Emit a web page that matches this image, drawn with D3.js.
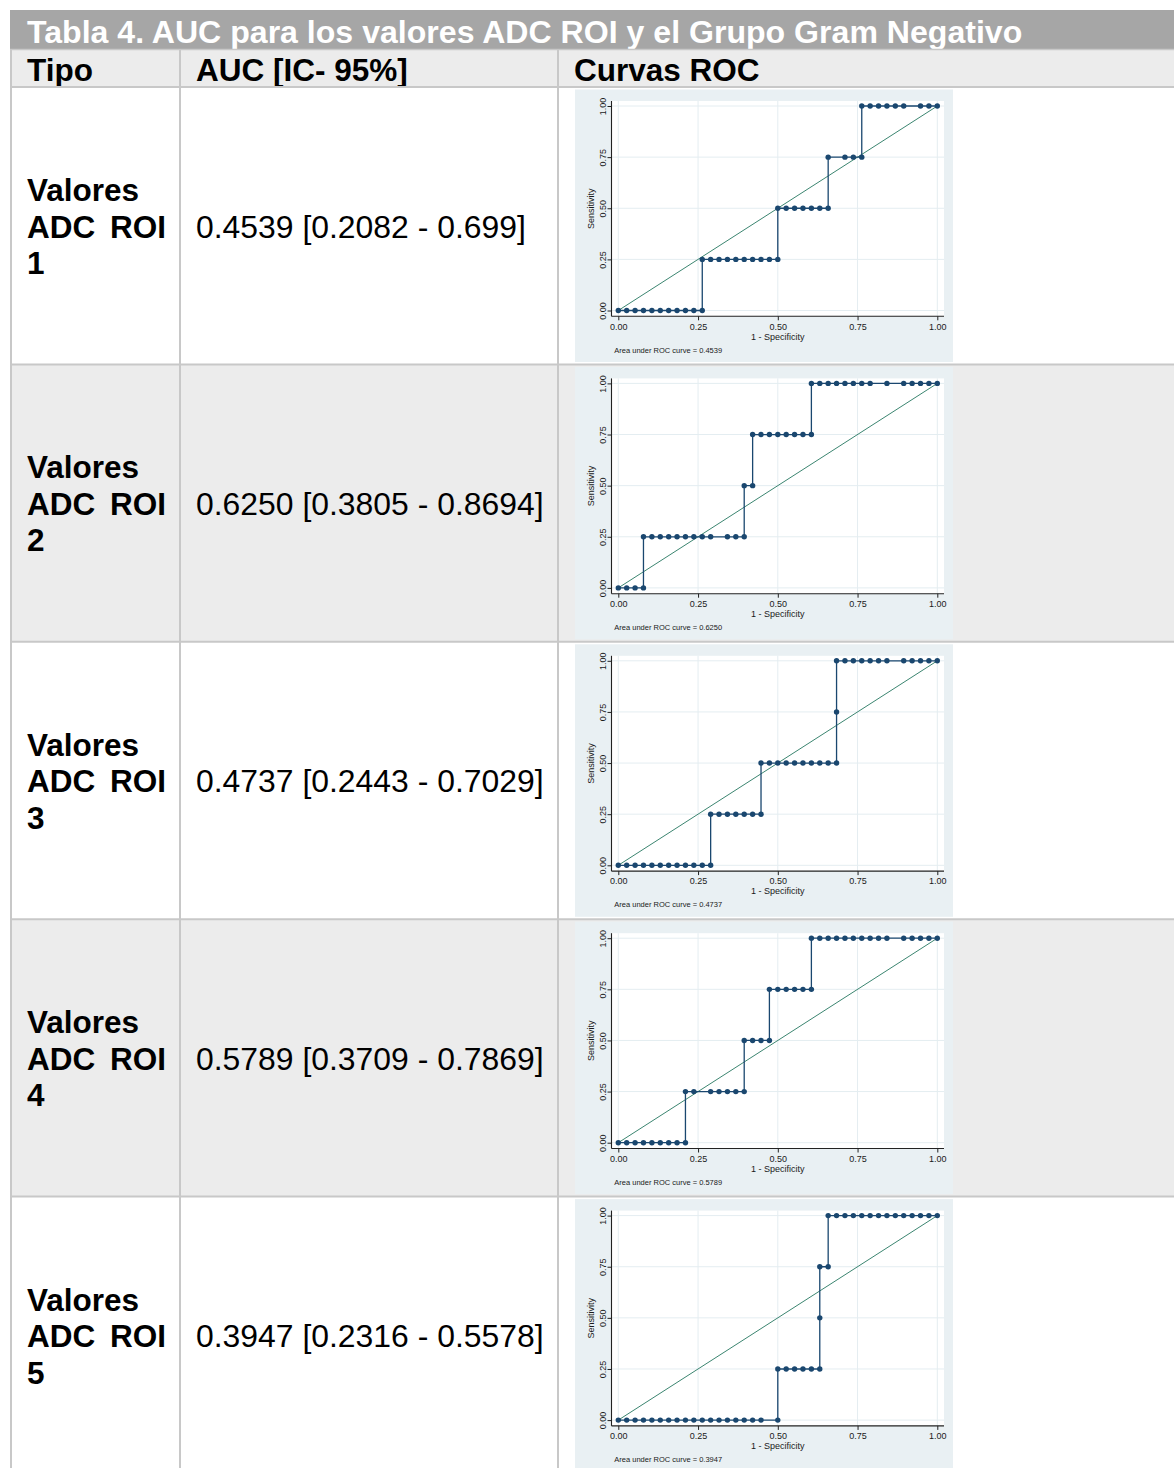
<!DOCTYPE html>
<html><head><meta charset="utf-8">
<script src="https://cdn.jsdelivr.net/npm/d3@7"></script>
<style>
body{margin:0;background:#fff}
svg{display:block}
text{font-family:"Liberation Sans",Arial,Helvetica,sans-serif}
</style>
</head><body>
<svg id="c" width="1174" height="1468"></svg>
<script>
// ---------- DATA ----------
const tableTitle = "Tabla 4. AUC para los valores ADC ROI y el Grupo Gram Negativo";
const headers = ["Tipo", "AUC [IC- 95%]", "Curvas ROC"];
const rowNumbers = ["1", "2", "3", "4", "5"];
const aucTexts = [
  "0.4539 [0.2082 - 0.699]",
  "0.6250 [0.3805 - 0.8694]",
  "0.4737 [0.2443 - 0.7029]",
  "0.5789 [0.3709 - 0.7869]",
  "0.3947 [0.2316 - 0.5578]"
];
const aucValues = ["0.4539", "0.6250", "0.4737", "0.5789", "0.3947"];
const tickValues = [0, 0.25, 0.5, 0.75, 1];

// 1 - Specificity (x) and Sensitivity (y) for each ROC curve
const roc1Fpr = [0,.0263,.0526,.0789,.1053,.1316,.1579,.1842,.2105,.2368,.2632,
  .2632,.2895,.3158,.3421,.3684,.3947,.4211,.4474,.4737,.5,
  .5,.5263,.5526,.5789,.6053,.6316,.6579,
  .6579,.7105,.7368,.7632,
  .7632,.7895,.8158,.8421,.8684,.8947,.9474,.9737,1];
const roc1Sens = [0,0,0,0,0,0,0,0,0,0,0,
  .25,.25,.25,.25,.25,.25,.25,.25,.25,.25,
  .5,.5,.5,.5,.5,.5,.5,
  .75,.75,.75,.75,
  1,1,1,1,1,1,1,1,1];

const roc2Fpr = [0,.0263,.0526,.0789,
  .0789,.1053,.1316,.1579,.1842,.2105,.2368,.2632,.2895,.3421,.3684,.3947,
  .3947,.4211,
  .4211,.4474,.4737,.5,.5263,.5526,.5789,.6053,
  .6053,.6316,.6579,.6842,.7105,.7368,.7632,.7895,.8421,.8947,.9211,.9474,.9737,1];
const roc2Sens = [0,0,0,0,
  .25,.25,.25,.25,.25,.25,.25,.25,.25,.25,.25,.25,
  .5,.5,
  .75,.75,.75,.75,.75,.75,.75,.75,
  1,1,1,1,1,1,1,1,1,1,1,1,1,1];

const roc3Fpr = [0,.0263,.0526,.0789,.1053,.1316,.1579,.1842,.2105,.2368,.2632,.2895,
  .2895,.3158,.3421,.3684,.3947,.4211,.4474,
  .4474,.4737,.5,.5263,.5526,.5789,.6053,.6316,.6579,.6842,
  .6842,
  .6842,.7105,.7368,.7632,.7895,.8158,.8421,.8947,.9211,.9474,.9737,1];
const roc3Sens = [0,0,0,0,0,0,0,0,0,0,0,0,
  .25,.25,.25,.25,.25,.25,.25,
  .5,.5,.5,.5,.5,.5,.5,.5,.5,.5,
  .75,
  1,1,1,1,1,1,1,1,1,1,1,1];

const roc4Fpr = [0,.0263,.0526,.0789,.1053,.1316,.1579,.1842,.2105,
  .2105,.2368,.2895,.3158,.3421,.3684,.3947,
  .3947,.4211,.4474,.4737,
  .4737,.5,.5263,.5526,.5789,.6053,
  .6053,.6316,.6579,.6842,.7105,.7368,.7632,.7895,.8158,.8421,.8947,.9211,.9474,.9737,1];
const roc4Sens = [0,0,0,0,0,0,0,0,0,
  .25,.25,.25,.25,.25,.25,.25,
  .5,.5,.5,.5,
  .75,.75,.75,.75,.75,.75,
  1,1,1,1,1,1,1,1,1,1,1,1,1,1,1];

const roc5Fpr = [0,.0263,.0526,.0789,.1053,.1316,.1579,.1842,.2105,.2368,.2632,.2895,.3158,.3421,.3684,.3947,.4211,.4474,.5,
  .5,.5263,.5526,.5789,.6053,.6316,
  .6316,
  .6316,.6579,
  .6579,.6842,.7105,.7368,.7632,.7895,.8158,.8421,.8684,.8947,.9211,.9474,.9737,1];
const roc5Sens = [0,0,0,0,0,0,0,0,0,0,0,0,0,0,0,0,0,0,0,
  .25,.25,.25,.25,.25,.25,
  .5,
  .75,.75,
  1,1,1,1,1,1,1,1,1,1,1,1,1,1];

const rocFpr = [roc1Fpr, roc2Fpr, roc3Fpr, roc4Fpr, roc5Fpr];
const rocSens = [roc1Sens, roc2Sens, roc3Sens, roc4Sens, roc5Sens];

// ---------- LAYOUT ----------
const svg = d3.select("#c");
const W = 1174, H = 1468;
const tableLeft = 10;
const titleTop = 10, titleBottom = 49.5, headBottom = 87;
const rowTop0 = 87, rowH = 277.4;
const colX = [10, 180, 558];
const borderColor = "#c8c8c8";
const navy = "#1a476f";
const bodyFont = 31.9;

// title bar
svg.append("rect").attr("x", tableLeft).attr("y", titleTop).attr("width", W - tableLeft).attr("height", titleBottom - titleTop).attr("fill", "#a6a6a6");
svg.append("text").attr("x", 27).attr("y", 42.5).attr("fill", "#fff").attr("font-weight", "bold").attr("font-size", 32.1).text(tableTitle);

// header row
svg.append("rect").attr("x", tableLeft).attr("y", titleBottom).attr("width", W - tableLeft).attr("height", headBottom - titleBottom).attr("fill", "#ececec");
const headX = [27, 196, 574];
headers.forEach((h, i) => {
  svg.append("text").attr("x", headX[i]).attr("y", 80.5).attr("font-weight", "bold").attr("font-size", 31.5).attr("fill", "#000").text(h);
});

// body rows
rowNumbers.forEach((n, i) => {
  const top = rowTop0 + i * rowH;
  svg.append("rect").attr("x", tableLeft).attr("y", top).attr("width", W - tableLeft).attr("height", rowH)
    .attr("fill", i % 2 === 1 ? "#ececec" : "#ffffff");
});

// borders
const gB = svg.append("g").attr("stroke", borderColor).attr("stroke-width", 2);
gB.append("line").attr("x1", tableLeft).attr("x2", W).attr("y1", titleBottom).attr("y2", titleBottom).attr("stroke-width", 1.5);
for (let i = 0; i < 5; i++) {
  const y = rowTop0 + i * rowH;
  gB.append("line").attr("x1", tableLeft).attr("x2", W).attr("y1", y).attr("y2", y);
}
colX.forEach((x, i) => {
  gB.append("line").attr("x1", i === 0 ? x + 1 : x).attr("x2", i === 0 ? x + 1 : x).attr("y1", titleBottom).attr("y2", H);
});

// row text
rowNumbers.forEach((n, i) => {
  const top = rowTop0 + i * rowH;
  const g = svg.append("g").attr("font-size", bodyFont).attr("fill", "#000");
  g.append("text").attr("x", 27).attr("y", top + 114).attr("font-weight", "bold").attr("font-size", 31.5).text("Valores");
  g.append("text").attr("x", 27).attr("y", top + 150.5).attr("font-weight", "bold").attr("font-size", 31.5).attr("word-spacing", 6).text("ADC ROI");
  g.append("text").attr("x", 27).attr("y", top + 187).attr("font-weight", "bold").attr("font-size", 31.5).text(n);
  g.append("text").attr("x", 196).attr("y", top + 150.5).text(aucTexts[i]);
});

// ROC charts
const chartLeft = 575, chartW = 378;
const x = d3.scaleLinear().domain([0, 1]).range([618.3, 937.3]);
const plotL = 611.5, plotR = 944;

rowNumbers.forEach((n, i) => {
  const top = rowTop0 + i * rowH;
  const y = d3.scaleLinear().domain([0, 1]).range([top + 223.5, top + 19]);
  const plotT = top + 14, plotB = top + 229.3;
  const g = svg.append("g");
  g.append("rect").attr("x", chartLeft).attr("y", top + 2.5).attr("width", chartW).attr("height", 272.5).attr("fill", "#e9f0f3");
  g.append("rect").attr("x", plotL).attr("y", plotT).attr("width", plotR - plotL).attr("height", plotB - plotT).attr("fill", "#fff");
  // grid
  const grid = g.append("g").attr("stroke", "#e4edf1").attr("stroke-width", 1);
  tickValues.forEach(t => {
    grid.append("line").attr("x1", x(t)).attr("x2", x(t)).attr("y1", plotT).attr("y2", plotB);
    grid.append("line").attr("x1", plotL).attr("x2", plotR).attr("y1", y(t)).attr("y2", y(t));
  });
  // axes
  const ax = g.append("g").attr("transform", `translate(0,${plotB})`)
    .call(d3.axisBottom(x).tickValues(tickValues).tickFormat(d3.format(".2f")).tickSize(4).tickPadding(3));
  ax.select(".domain").remove();
  ax.selectAll("text").attr("font-size", 9).attr("fill", "#1a1a1a").attr("font-family", "'Liberation Sans',Arial,sans-serif");
  ax.selectAll("line").attr("stroke", "#222");
  const ay = g.append("g").attr("transform", `translate(${plotL},0)`)
    .call(d3.axisLeft(y).tickValues(tickValues).tickFormat(d3.format(".2f")).tickSize(4));
  ay.select(".domain").remove();
  ay.selectAll("line").attr("stroke", "#222");
  ay.selectAll("text").attr("font-size", 9).attr("fill", "#1a1a1a").attr("font-family", "'Liberation Sans',Arial,sans-serif")
    .attr("text-anchor", "middle").attr("x", 0).attr("dy", 0).attr("y", -5.2).attr("transform", "rotate(-90)");
  g.append("line").attr("x1", plotL).attr("x2", plotL).attr("y1", plotT).attr("y2", plotB).attr("stroke", "#222").attr("stroke-width", 1.1);
  g.append("line").attr("x1", plotL).attr("x2", plotR).attr("y1", plotB).attr("y2", plotB).attr("stroke", "#222").attr("stroke-width", 1.1);
  // axis titles
  g.append("text").attr("x", (plotL + plotR) / 2).attr("y", top + 252.5).attr("text-anchor", "middle").attr("font-size", 9).attr("fill", "#1a1a1a").text("1 - Specificity");
  g.append("text").attr("transform", `translate(594.2,${(plotT + plotB) / 2}) rotate(-90)`).attr("text-anchor", "middle").attr("font-size", 9).attr("fill", "#1a1a1a").text("Sensitivity");
  g.append("text").attr("x", 614.3).attr("y", top + 265.5).attr("font-size", 7.5).attr("fill", "#1a1a1a").text("Area under ROC curve = " + aucValues[i]);
  // reference line
  g.append("line").attr("x1", x(0)).attr("y1", y(0)).attr("x2", x(1)).attr("y2", y(1)).attr("stroke", "#3b8570").attr("stroke-width", 1);
  // ROC curve
  const pts = rocFpr[i].map((f, j) => [f, rocSens[i][j]]);
  g.append("path").datum(pts).attr("fill", "none").attr("stroke", navy).attr("stroke-width", 1.3)
    .attr("d", d3.line().x(d => x(d[0])).y(d => y(d[1])));
  g.selectAll("circle.pt").data(pts).join("circle").attr("class", "pt")
    .attr("cx", d => x(d[0])).attr("cy", d => y(d[1])).attr("r", 2.7).attr("fill", navy);
});
</script>
</body></html>
